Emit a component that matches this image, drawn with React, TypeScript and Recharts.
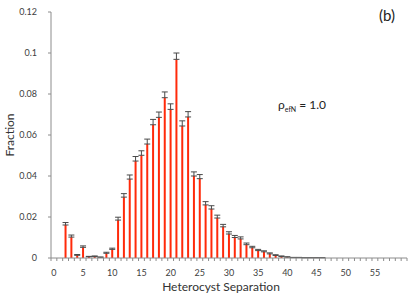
import React from 'react'
import { BarChart, Bar, XAxis, YAxis, ErrorBar } from 'recharts'

// heterocyst separation (cells)
const separations = [
  0, 1, 2, 3, 4, 5, 6, 7, 8, 9,
  10, 11, 12, 13, 14, 15, 16, 17, 18, 19,
  20, 21, 22, 23, 24, 25, 26, 27, 28, 29,
  30, 31, 32, 33, 34, 35, 36, 37, 38, 39,
  40, 41, 42, 43, 44, 45, 46, 47, 48, 49,
  50, 51, 52, 53, 54, 55, 56, 57, 58, 59,
  60,
]

const fractions = [
  0, 0, 0.0161, 0.0102, 0.0013, 0.0052, 0.0006, 0.0007, 0.0003, 0.0023,
  0.0042, 0.0185, 0.0297, 0.0385, 0.0473, 0.0501, 0.0556, 0.065, 0.0686, 0.0782,
  0.0725, 0.0969, 0.0644, 0.0688, 0.04, 0.0387, 0.0259, 0.0239, 0.0195, 0.0152,
  0.0117, 0.01, 0.0093, 0.0065, 0.005, 0.0036, 0.003, 0.002, 0.0012, 0.0007,
  0.0004, 0.0002, 0.0002, 0.0001, 0.0001, 0.0001, 0.0001, 0, 0, 0,
  0, 0, 0, 0, 0, 0, 0, 0, 0, 0,
  0,
]

// upper error only (lower half is hidden behind the bar in the original)
const errors = [
  0, 0, 0.0012, 0.001, 0.0004, 0.0007, 0.0002, 0.0003, 0.0002, 0.0005,
  0.0006, 0.0014, 0.0017, 0.002, 0.0022, 0.0022, 0.0024, 0.0026, 0.0026, 0.0028,
  0.0027, 0.0031, 0.0025, 0.0026, 0.002, 0.002, 0.0016, 0.0016, 0.0014, 0.0012,
  0.0011, 0.001, 0.001, 0.0008, 0.0007, 0.0006, 0.0005, 0.0005, 0.0004, 0.0003,
  0.0002, 0.0001, 0.0001, 0.0001, 0.0001, 0.0001, 0.0001, 0, 0, 0,
  0, 0, 0, 0, 0, 0, 0, 0, 0, 0,
  0,
]

const yTicks = [0, 0.02, 0.04, 0.06, 0.08, 0.1, 0.12]
const labelEvery = 5
const lastLabel = 55

const data = separations.map((s, i) => ({ sep: s, fraction: fractions[i], err: [0, errors[i]] }))

const font = 'Lato, "Open Sans", sans-serif'
const axisColor = '#8c8c8c'

// category axis: small marks between bars, label every 5th
function SepTick(props: any) {
  const { x, y, payload, index, width } = props
  const band = (width || 356) / separations.length
  const showLabel = payload.value % labelEvery === 0 && payload.value <= lastLabel
  return (
    <g>
      <line x1={x - band / 2} x2={x - band / 2} y1={y} y2={y + 3} stroke={axisColor} />
      {index === separations.length - 1 && (
        <line x1={x + band / 2} x2={x + band / 2} y1={y} y2={y + 3} stroke={axisColor} />
      )}
      {showLabel && (
        <text x={x} y={y + 18} textAnchor="middle" fontSize={9} fill="#404040" fontFamily={font}>
          {payload.value}
        </text>
      )}
    </g>
  )
}

export default function App() {
  return (
    <div style={{ position: 'absolute', left: 0, top: 0, width: 415, height: 296, background: '#fff' }}>
      <BarChart
        width={415}
        height={296}
        data={data}
        margin={{ top: 12, right: 8, left: 0, bottom: 8 }}
        barCategoryGap="32%"
      >
        <XAxis
          dataKey="sep"
          interval={0}
          tickSize={0}
          tickMargin={0}
          tickLine={false}
          axisLine={{ stroke: axisColor }}
          tick={<SepTick />}
          height={30}
        />
        <YAxis
          domain={[0, 0.12]}
          ticks={yTicks}
          width={51}
          tickSize={3}
          tickMargin={11}
          axisLine={{ stroke: axisColor }}
          tickLine={{ stroke: axisColor }}
          tick={{ fontSize: 9, fill: '#404040', fontFamily: font }}
        />
        <Bar dataKey="fraction" fill="#ff2a0a" isAnimationActive={false}>
          <ErrorBar dataKey="err" width={3} stroke="#4a4a4a" strokeWidth={1} isAnimationActive={false} />
        </Bar>
      </BarChart>
      <svg
        width={415}
        height={296}
        style={{ position: 'absolute', left: 0, top: 0, pointerEvents: 'none' }}
        fontFamily={font}
      >
        <text x={11} y={135} transform="rotate(-90 11 135)" textAnchor="middle" dominantBaseline="middle" fontSize={12} fill="#333">
          Fraction
        </text>
        <text x={221} y={291} textAnchor="middle" fontSize={12} fill="#333">
          Heterocyst Separation
        </text>
        <text x={387} y={21} textAnchor="middle" fontSize={15} fill="#222">
          (b)
        </text>
        <text x={278} y={109} fontSize={12} fill="#222">
          ρ<tspan fontSize={7} dy={3}>efN</tspan>
          <tspan dy={-3}> = 1.0</tspan>
        </text>
      </svg>
    </div>
  )
}
